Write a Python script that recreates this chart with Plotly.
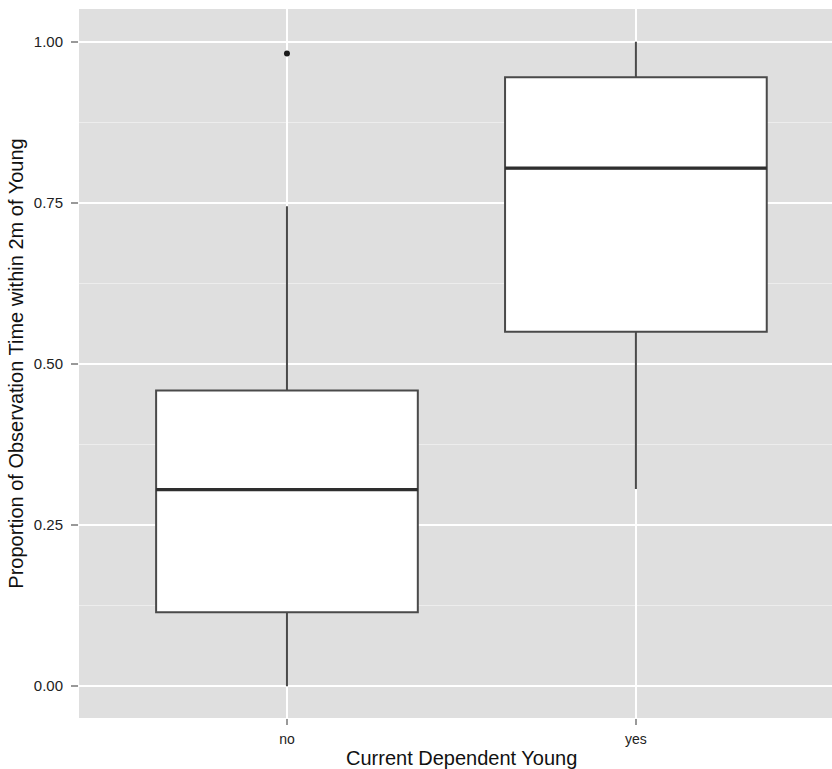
import plotly.graph_objects as go

categories = ["no", "yes"]
q1 = [0.115, 0.550]
median = [0.305, 0.804]
q3 = [0.459, 0.945]
lower_whisker = [0.0, 0.306]
upper_whisker = [0.745, 1.0]
outlier_cat = ["no"]
outlier_val = [0.982]
box_width = 0.75

pos = list(range(len(categories)))

fig = go.Figure()
fig.add_trace(go.Box(
    x=pos, q1=q1, median=median, q3=q3,
    lowerfence=lower_whisker, upperfence=upper_whisker,
    width=box_width, whiskerwidth=0,
    fillcolor="white", line=dict(color="#4a4a4a", width=2),
    boxpoints=False, showlegend=False, hoverinfo="skip",
))
# thicker median lines (as ggplot draws them)
for i in pos:
    fig.add_trace(go.Scatter(
        x=[i - box_width / 2, i + box_width / 2], y=[median[i], median[i]],
        mode="lines", line=dict(color="#2e2e2e", width=3.2),
        showlegend=False, hoverinfo="skip",
    ))
fig.add_trace(go.Scatter(
    x=[categories.index(c) for c in outlier_cat], y=outlier_val, mode="markers",
    marker=dict(color="#1a1a1a", size=6), showlegend=False,
))

fig.update_layout(
    width=832, height=769,
    margin=dict(l=79, r=0, t=9, b=51),
    paper_bgcolor="white", plot_bgcolor="#DFDFDF",
    font=dict(family="Liberation Sans, Arial, sans-serif", color="#222"),
)
fig.update_xaxes(
    range=[-0.596, 1.562], tickvals=pos, ticktext=categories,
    showgrid=True, gridcolor="white", gridwidth=1.5,
    ticks="outside", ticklen=6, tickcolor="#999", tickwidth=1.5,
    tickfont=dict(size=14, color="#222"), ticklabelstandoff=2,
    zeroline=False, showline=False, automargin=False,
)
fig.add_annotation(
    text="Current Dependent Young", xref="paper", yref="paper",
    x=0.508, y=0, yshift=-40, xanchor="center", yanchor="middle",
    showarrow=False, font=dict(size=20, color="#111"),
)
fig.update_yaxes(
    range=[-0.0493, 1.051], tickvals=[0, 0.25, 0.5, 0.75, 1.0],
    tickformat=".2f",
    showgrid=True, gridcolor="white", gridwidth=1.5,
    minor=dict(tickvals=[0.125, 0.375, 0.625, 0.875], showgrid=True, gridcolor="#EDEDED", gridwidth=0.8, ticks=""),
    ticks="outside", ticklen=7, tickcolor="#999", tickwidth=1.5,
    tickfont=dict(size=15, color="#222"), ticklabelstandoff=5,
    zeroline=False, showline=False, automargin=False,
    title=dict(text="Proportion of Observation Time within 2m of Young", font=dict(size=20, color="#111"), standoff=4),
)

fig.write_html("out.html", config={"displayModeBar": False},
               post_script="document.body.style.margin='0';document.body.style.overflow='hidden';")
